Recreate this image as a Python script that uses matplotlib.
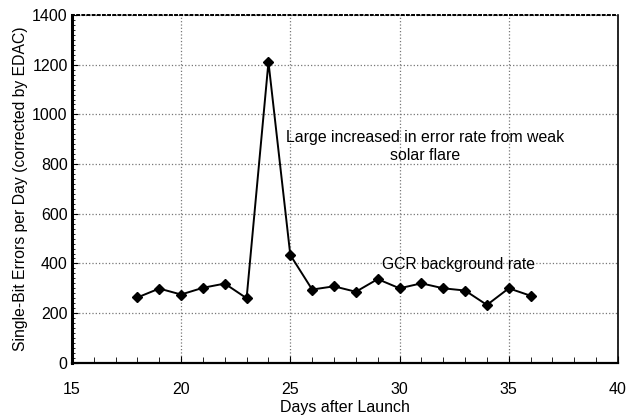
import matplotlib
matplotlib.use("Agg")
import matplotlib.pyplot as plt
from matplotlib.ticker import MultipleLocator

# days after launch and single-bit errors per day
days = [18, 19, 20, 21, 22, 23, 24, 25, 26, 27, 28, 29, 30, 31, 32, 33, 34, 35, 36]
errors = [263, 299, 275, 302, 319, 260, 1211, 434, 295, 308, 286, 337, 300, 320, 300, 291, 233, 300, 270]

flare_note = "Large increased in error rate from weak\nsolar flare"
gcr_note = "GCR background rate"

plt.rcParams['font.family'] = ['Liberation Sans', 'DejaVu Sans']

fig = plt.figure(figsize=(6.3, 4.18), dpi=100)
ax = fig.add_axes([0.114, 0.132, 0.867, 0.832])

ax.plot(days, errors, color='black', linewidth=1.4, marker='D', markersize=5.5,
        markerfacecolor='black', zorder=3)

ax.set_xlim(15, 40)
ax.set_ylim(0, 1400)
ax.xaxis.set_major_locator(MultipleLocator(5))
ax.xaxis.set_minor_locator(MultipleLocator(1))
ax.yaxis.set_major_locator(MultipleLocator(200))
ax.yaxis.set_minor_locator(MultipleLocator(20))

ax.grid(True, which='major', linestyle=':', color='#777777', linewidth=0.9)
ax.tick_params(axis='x', which='both', direction='in', labelsize=11.5, pad=14)
ax.tick_params(axis='x', which='major', length=5)
ax.tick_params(axis='x', which='minor', length=4)
ax.tick_params(axis='y', which='both', direction='in', labelsize=11.5, pad=3)
ax.tick_params(axis='y', which='major', length=4)
ax.tick_params(axis='y', which='minor', length=2)

ax.spines['left'].set_linewidth(2.2)
ax.spines['bottom'].set_linewidth(1.6)
ax.spines['right'].set_linewidth(1.2)
ax.spines['top'].set_linestyle(':')
ax.spines['top'].set_linewidth(1.4)

ax.set_xlabel("Days after Launch", fontsize=11.5, labelpad=2)
ax.set_ylabel("Single-Bit Errors per Day (corrected by EDAC)", fontsize=11.3, labelpad=3)

ax.text(31.16, 869, flare_note, ha='center', va='center', fontsize=11.4, linespacing=1.25)
ax.text(32.7, 394, gcr_note, ha='center', va='center', fontsize=11.3)

fig.savefig("out.png", dpi=100)
